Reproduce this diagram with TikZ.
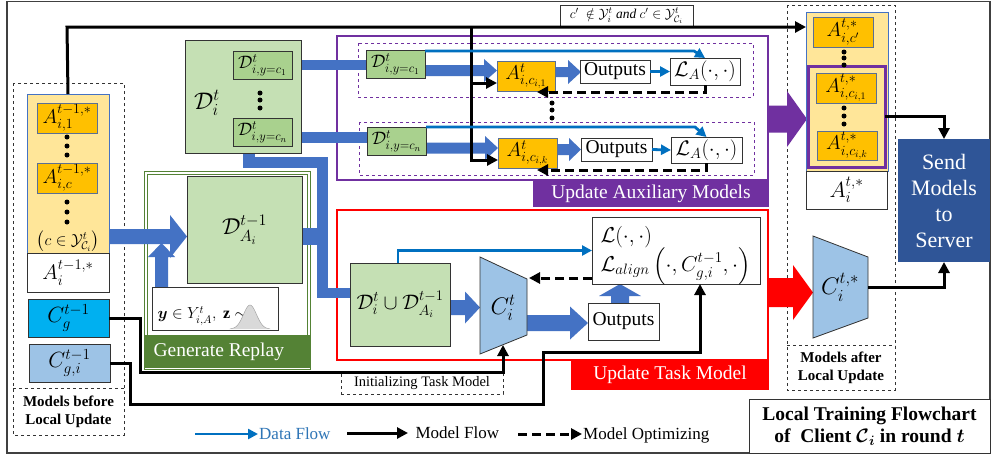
\RequirePackage{fix-cm}
\documentclass[tikz,border=0pt]{standalone}
\usepackage{amsmath}
\usepackage{bm}
\usepackage{fontspec}
\setmainfont{Liberation Serif}
\usetikzlibrary{arrows.meta}
\definecolor{bA}{HTML}{4472C4}
\definecolor{bT}{HTML}{0070C0}
\definecolor{bTx}{HTML}{2E75B6}
\definecolor{gL}{HTML}{C5E0B4}
\definecolor{gM}{HTML}{A9D18E}
\definecolor{gD}{HTML}{548235}
\definecolor{orA}{HTML}{FFC000}
\definecolor{yL}{HTML}{FFE699}
\definecolor{pu}{HTML}{7030A0}
\definecolor{cy}{HTML}{00B0F0}
\definecolor{lb}{HTML}{9DC3E6}
\definecolor{nv}{HTML}{2F5597}
\definecolor{slate}{HTML}{5A6F94}
\newcommand{\bx}[7]{\node[inner sep=0pt, outer sep=0pt, minimum width={(#4)-(#2)}, minimum height={(#5)-(#3)}, #6] (#1) at ({((#2)+(#4))/2},{((#3)+(#5))/2}) {#7};}
\newcommand{\blkR}[7]{\fill[#7] (#1,{#4-#5}) -- (#2,{#4-#5}) -- (#2,{#4-#6}) -- (#3,#4) -- (#2,{#4+#6}) -- (#2,{#4+#5}) -- (#1,{#4+#5}) -- cycle;}
\newcommand{\blkU}[7]{\fill[#7] ({#1-#5},#2) -- ({#1-#5},#3) -- ({#1-#6},#3) -- (#1,#4) -- ({#1+#6},#3) -- ({#1+#5},#3) -- ({#1+#5},#2) -- cycle;}
\newcommand{\fsz}[2]{\fontsize{#1}{#2}\selectfont}
\begin{document}
\begin{tikzpicture}[x=1pt,y=-1pt,
  orbox/.style={fill=orA, draw=slate, line width=0.8pt, font=\fsz{20}{22}},
  gbox/.style={fill=gM, draw=black!80, line width=0.8pt, font=\fsz{18}{20}},
  lgbox/.style={fill=gL, draw=black!80, line width=0.8pt, font=\fsz{22}{24}},
  wbox/.style={fill=white, draw=black!80, line width=0.8pt, font=\fsz{19.5}{22}},
  lbltext/.style={text=white, font=\fsz{19.5}{22}},
  boldlbl/.style={font=\bfseries\fsz{15}{18}, align=center},
  dframe/.style={draw=black!80, dashed, line width=0.8pt},
  dataflow/.style={draw=bT, line width=2.8pt, -{Triangle[length=10pt,width=10pt]}},
  modelflow/.style={draw=black, line width=3pt, -{Triangle[length=11pt,width=11pt]}},
  optflow/.style={draw=black, line width=3pt, dash pattern=on 9pt off 5pt, -{Triangle[length=11pt,width=11pt]}},
]
\useasboundingbox (0,0) rectangle (992,456);
\fill[white] (0,0) rectangle (992,456);
\draw[black!75, line width=1.2pt] (7,1.5) rectangle (990,453);

% dashed frames
\draw[dframe] (13,83) rectangle (124,435);
\draw[dframe] (13,388) -- (124,388);
\node[boldlbl] (beforelbl) at (68.5,412) {Models before\\Local Update};
\draw[dframe] (787,5) rectangle (895,390);
\draw[dframe] (787,345) -- (895,345);
\node[boldlbl] (afterlbl) at (841,368) {Models after\\Local Update};

% group frames
\draw[pu, line width=2pt] (337,36) rectangle (768,180);
\bx{auxlbl}{533}{180}{769}{207}{fill=pu, lbltext}{Update Auxiliary Models}
\draw[pu, dashed, line width=1pt] (358,43) rectangle (753,97);
\draw[pu, dashed, line width=1pt] (359,122) rectangle (754,175);
\draw[red, line width=2pt] (337,210) rectangle (768,360);
\bx{tasklbl}{571}{360}{769}{390}{fill=red, lbltext}{Update Task Model}
\draw[gD, line width=1.2pt, double=white, double distance=1.5pt] (146,173) rectangle (309,368);
\bx{replbl}{145}{335}{311}{368}{fill=gD}{}
\node[lbltext, anchor=west] (reptxt) at (150,352) {Generate Replay};

% blue bands
\fill[bA] (292,60) rectangle (367,70);
\fill[bA] (292,132) rectangle (367,143);
\blkR{425}{484}{497}{70.5}{5.5}{11.5}{bA}
\blkR{555}{568}{581}{72}{5}{12}{bA}
\blkR{426}{485}{498}{148}{5.5}{12}{bA}
\blkR{557}{569}{581}{149.5}{5.5}{11.5}{bA}
\blkR{109}{170}{187}{236.5}{7.5}{21.5}{bA}
\blkU{161.5}{288}{257}{243}{6.5}{13.5}{bA}
\fill[bA] (243,150) rectangle (255,168);
\fill[bA] (243,157) rectangle (328,168);
\fill[bA] (317,157) rectangle (328,298);
\fill[bA] (317,288) rectangle (351,298);
\fill[bA] (300,228) rectangle (318,245);
\blkR{450}{465}{480}{307.5}{7.5}{16}{bA}
\blkR{526}{570}{588}{323}{8}{16.5}{bA}
\blkU{620}{304}{296}{284}{9}{21}{bA}
\blkR{767}{787}{807}{119}{13.5}{28}{pu}
\blkR{767}{793}{813}{292.5}{14.5}{27.5}{red}

% left models
\bx{ylL}{27}{94}{109}{253}{fill=yL, draw=bA, line width=0.8pt}{}
\bx{AiL}{27}{253}{109}{292}{wbox, font=\fsz{21}{24}}{$A_i^{t-1,*}$}
\bx{A1L}{37}{103}{97}{133}{orbox}{$A_{i,1}^{t-1,*}$}
\bx{AcL}{37}{163}{97}{193}{orbox}{$A_{i,c}^{t-1,*}$}
\foreach \yy in {137,146,155,202,212,222} \fill (67,\yy) circle (2.5pt);
\node[font=\fsz{16}{18}] (cset) at (68,241) {$\left(c\in\mathcal{Y}^t_{\mathcal{C}_i}\right)$};
\bx{Cg}{28}{299}{109}{337}{fill=cy, draw=black!80, line width=0.8pt, font=\fsz{22}{24}}{$C_g^{t-1}$}
\bx{Cgi}{29}{344}{110}{382}{fill=lb, draw=black!80, line width=0.8pt, font=\fsz{22}{24}}{$C_{g,i}^{t-1}$}

% data
\bx{Di}{185}{40}{301}{153}{lgbox}{}
\node[font=\fsz{24}{26}] (Dilbl) at (207,103) {$\mathcal{D}_i^t$};
\bx{Din1}{233}{51}{292}{79}{gbox}{$\mathcal{D}^t_{i,y=c_1}$}
\bx{Dinn}{233}{118}{292}{146}{gbox}{$\mathcal{D}^t_{i,y=c_n}$}
\foreach \yy in {93,100,108} \fill (260,\yy) circle (2.5pt);
\bx{DA}{187}{176}{302}{283}{lgbox, font=\fsz{23}{26}}{$\mathcal{D}^{t-1}_{A_i}$}
\bx{rep}{152}{287}{278}{330}{wbox}{}
\node[font=\fsz{16}{18}, anchor=west] (reptext) at (154,316) {$\bm{y}\in Y^t_{i,A},\ \mathbf{z}\sim$};
\fill[gray!30] (229,329) -- plot[domain=-3:3, samples=41, variable=\u] ({250+\u*6.5},{329-24*exp(-0.5*(\u)*(\u))}) -- (271,329) -- cycle;
\draw[gray!70, line width=0.5pt] plot[domain=-3:3, samples=41, variable=\u] ({250+\u*6.5},{329-24*exp(-0.5*(\u)*(\u))});

% auxiliary rows
\bx{Dr1}{366}{50}{425}{78}{gbox}{$\mathcal{D}^t_{i,y=c_1}$}
\bx{Drn}{367}{127}{426}{155}{gbox}{$\mathcal{D}^t_{i,y=c_n}$}
\bx{A1}{497}{61}{555}{91}{orbox}{$A^t_{i,c_{i,1}}$}
\bx{Ak}{498}{138}{557}{168}{orbox}{$A^t_{i,c_{i,k}}$}
\bx{O1}{580}{60}{650}{83}{wbox}{Outputs}
\bx{O2}{581}{138}{652}{161}{wbox}{Outputs}
\bx{LA1}{670}{58}{740}{85}{wbox, font=\fsz{21}{23}}{$\mathcal{L}_A(\cdot,\cdot)$}
\bx{LA2}{671}{137}{742}{163}{wbox, font=\fsz{21}{23}}{$\mathcal{L}_A(\cdot,\cdot)$}
\foreach \yy in {103,110,118} \fill (552,\yy) circle (2.5pt);

% task model
\bx{DD}{350}{263}{450}{346}{lgbox, font=\fsz{21}{24}}{$\mathcal{D}_i^t\cup\mathcal{D}^{t-1}_{A_i}$}
\draw[fill=lb, draw=black!80, line width=0.8pt] (480,257) -- (527,279) -- (527,335) -- (480,354) -- cycle;
\node[font=\fsz{24}{26}] (Ct) at (503,308) {$C_i^t$};
\bx{O3}{588}{303}{659}{340}{wbox}{Outputs}
\bx{loss}{592}{217}{760}{284}{wbox}{}
\node[anchor=west, font=\fsz{21.5}{24}] (l1) at (597,237) {$\mathcal{L}(\cdot,\cdot)$};
\node[anchor=west, font=\fsz{21.5}{24}] (l2) at (597,266) {$\mathcal{L}_{align}\left(\cdot,C^{t-1}_{g,i},\cdot\right)$};
\bx{init}{341}{372}{503}{394}{dframe, fill=white, font=\fsz{14.5}{17}}{Initializing Task Model}

% right models
\bx{ylR}{806}{12}{888}{171}{fill=yL, draw=bA, line width=0.8pt}{}
\bx{AiR}{806}{171}{887}{209}{wbox, font=\fsz{22}{24}}{$A_i^{t,*}$}
\bx{AcpR}{813}{17}{873}{47}{orbox}{$A^{t,*}_{i,c'}$}
\bx{pbox}{808}{66}{885}{167}{draw=pu, line width=3pt}{}
\bx{A1R}{816}{73}{876}{103}{orbox}{$A^{t,*}_{i,c_{i,1}}$}
\bx{AkR}{817}{131}{877}{160}{orbox}{$A^{t,*}_{i,c_{i,k}}$}
\foreach \yy in {52,58,65,108,116,124} \fill (844,\yy) circle (2.5pt);
\draw[fill=lb, draw=black!80, line width=0.8pt] (813,236) -- (868,257) -- (868,318) -- (813,338) -- cycle;
\node[font=\fsz{24}{26}] (Cs) at (840,287) {$C_i^{t,*}$};
\bx{send}{898}{139}{990}{262}{fill=nv, text=white, align=center, font=\fsz{22}{26}}{Send\\Models\\to\\Server}

% condition label
\bx{cbox}{560}{5}{693}{27}{wbox, font=\fsz{13.5}{15}}{$c'\ \notin\mathcal{Y}_i^t\ \mathit{and}\ c'\in\mathcal{Y}^t_{\mathcal{C}_i}$}

% model flow lines
\coordinate (topL) at (67,27);
\coordinate (br) at (471,27);
\coordinate (br1) at (471,83);
\coordinate (topR) at (806,27);
\draw[modelflow] (ylL.north) -- (topL) -- (topR);
\draw[modelflow] (br) -- (471,160) -- ([yshift=-7pt]Ak.west);
\draw[modelflow] (br1) -- ([yshift=-7pt]A1.west);
\draw[modelflow] (pbox.east) -| (send.north);
\coordinate (cse) at (868,287);
\draw[modelflow] (cse) -| (send.south);
\coordinate (ctb) at (503,345);
\draw[modelflow] (Cg.east) -- (140,318) -- (140,372) -- (503,372) -- (ctb);
\draw[modelflow] (Cgi.east) -- (130,363) -- (130,404) -- (543,404) -- (543,352) -- (700,352) -- ([xshift=24pt]loss.south);

% data flow / optimizing
\draw[dataflow] ([yshift=13pt]Dr1.east) -- (694,51) -- (LA1.north);
\draw[dataflow] ([yshift=14pt]Drn.east) -- (695,127) -- (LA2.north);
\draw[dataflow] (O1.east) -- (LA1.west);
\draw[dataflow] (O2.east) -- (LA2.west);
\draw[optflow] (LA1.south) -- (705,92) -- (537,92);
\draw[optflow] (LA2.south) -- (706.5,170) -- (537,170);
\draw[dataflow] ([xshift=-2pt]DD.north) |- (loss.west);
\coordinate (ctr) at (529,278);
\draw[optflow] ([yshift=-27.5pt]loss.west) -- (ctr);

% legend
\coordinate (lg1a) at (195,434);
\coordinate (lg1b) at (258,434);
\draw[dataflow] (lg1a) -- (lg1b);
\node[anchor=west, text=bTx, font=\fsz{17}{20}, inner sep=1pt] (lgt1) at (258,434) {Data Flow};
\coordinate (lg2a) at (347,433);
\coordinate (lg2b) at (408,433);
\draw[modelflow] (lg2a) -- (lg2b);
\node[anchor=west, font=\fsz{17}{20}] (lgt2) at (412,433) {Model Flow};
\coordinate (lg3a) at (518,434);
\coordinate (lg3b) at (582,434);
\draw[optflow] (lg3a) -- (lg3b);
\node[anchor=west, font=\fsz{17}{20}, inner sep=1pt] (lgt3) at (582,435) {Model Optimizing};

% title
\bx{title}{749}{399}{990}{453}{draw=black!80, line width=0.8pt, fill=white, align=center, font=\bfseries\fsz{19.5}{22}}{Local Training Flowchart\\of~ Client $\bm{\mathcal{C}_i}$ in round $\bm{t}$}
\end{tikzpicture}
\end{document}
